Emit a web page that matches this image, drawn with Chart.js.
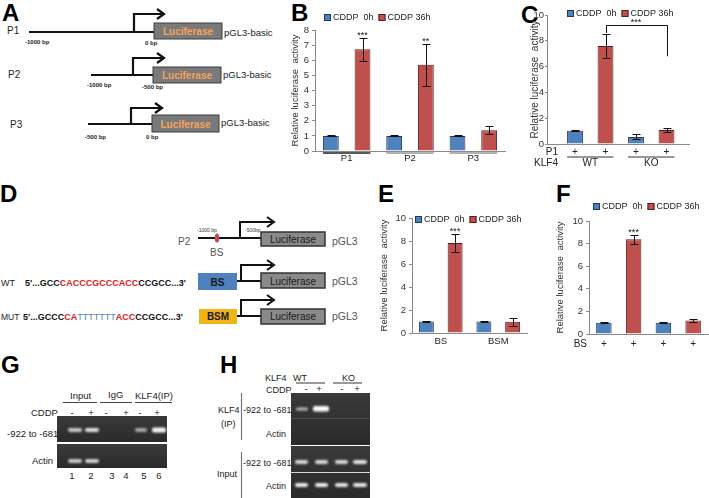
<!DOCTYPE html>
<html>
<head>
<meta charset="utf-8">
<script src="https://cdn.jsdelivr.net/npm/chart.js@4.4.1/dist/chart.umd.min.js"></script>
<style>
  body { margin: 0; background: #fff; }
  #fig { position: relative; width: 709px; height: 498px; overflow: hidden; font-family: "Liberation Sans", Arial, sans-serif; }
  #fig svg, #fig canvas { position: absolute; left: 0; top: 0; }
</style>
</head>
<body>
<div id="fig">
<svg width="709" height="498" viewBox="0 0 709 498" font-family="Liberation Sans, Arial, sans-serif">
  <defs>
    <filter id="soft" x="-50%" y="-100%" width="200%" height="300%"><feGaussianBlur stdDeviation="0.8"/></filter>
    <linearGradient id="gel" x1="0" y1="0" x2="0" y2="1">
      <stop offset="0" stop-color="#3a3a3a"/><stop offset="1" stop-color="#2a2a2a"/>
    </linearGradient>
  </defs>

  <!-- panel letters -->
  <g font-size="24" font-weight="bold" fill="#000">
    <text x="2" y="21">A</text>
    <text x="291" y="21">B</text>
    <text x="521" y="23">C</text>
    <text x="0" y="202">D</text>
    <text x="378" y="202">E</text>
    <text x="556" y="202">F</text>
    <text x="1" y="373">G</text>
    <text x="220" y="373">H</text>
  </g>

  <!-- A: promoter constructs -->
  <g font-size="10" fill="#222">
    <text x="7" y="34">P1</text>
    <text x="8" y="78">P2</text>
    <text x="10" y="128">P3</text>
  </g>
  <g stroke="#111" fill="none" stroke-width="2">
    <path d="M29 32H154"/><path d="M134 32V14H163" stroke-width="2.2"/><path d="M157 9L164 14L157 19" stroke-width="2.2"/>
    <path d="M91 75H153"/><path d="M133 75V58H163" stroke-width="2.2"/><path d="M157 53L164 58L157 63" stroke-width="2.2"/>
    <path d="M88 124H152"/><path d="M131 124V108H161" stroke-width="2.2"/><path d="M155 103L162 108L155 113" stroke-width="2.2"/>
  </g>
  <g fill="#7a7a7a" stroke="#3c3c3c">
    <rect x="154" y="23" width="68" height="16"/>
    <rect x="153" y="67" width="68" height="16"/>
    <rect x="152" y="115" width="67" height="17"/>
  </g>
  <g font-size="10" font-weight="bold" fill="#f5a35a" text-anchor="middle">
    <text x="188" y="35">Luciferase</text>
    <text x="187" y="79">Luciferase</text>
    <text x="185.5" y="128">Luciferase</text>
  </g>
  <g font-size="9.5" fill="#222">
    <text x="224" y="36">pGL3-basic</text>
    <text x="223" y="78">pGL3-basic</text>
    <text x="221" y="126">pGL3-basic</text>
  </g>
  <g font-size="6" font-weight="bold" fill="#222">
    <text x="25" y="44">-1000 bp</text><text x="145" y="45">0 bp</text>
    <text x="87" y="87">-1000 bp</text><text x="142" y="89">-500 bp</text>
    <text x="85" y="139">-500 bp</text><text x="146" y="139">0 bp</text>
  </g>

  <!-- D: binding site constructs -->
  <text x="178" y="245" font-size="10" fill="#555">P2</text>
  <text x="210" y="256" font-size="10" fill="#555">BS</text>
  <g font-size="5" fill="#333"><text x="197" y="232">-1000 bp</text><text x="245" y="232">-500bp</text></g>
  <g stroke="#111" fill="none" stroke-width="2">
    <path d="M198 238H261"/><path d="M240 238V222H272"/><path d="M267 217L274 222L267 227"/>
    <path d="M237 281H261"/><path d="M241 281V265H272"/><path d="M267 260L274 265L267 270"/>
    <path d="M237 316H261"/><path d="M241 316V300H272"/><path d="M267 295L274 300L267 305"/>
  </g>
  <ellipse cx="217" cy="238" rx="2.3" ry="4.5" fill="#c0504d"/>
  <rect x="198" y="273" width="39" height="17" fill="#4f81bd"/>
  <rect x="199" y="309" width="38" height="15" fill="#f0b418"/>
  <g font-size="10" font-weight="bold" fill="#1a1a1a" text-anchor="middle">
    <text x="217.5" y="285.5">BS</text><text x="218" y="320">BSM</text>
  </g>
  <g fill="#8a8a8a" stroke="#333" stroke-width="1.5">
    <rect x="261" y="232" width="64" height="14"/>
    <rect x="261" y="273" width="64" height="15"/>
    <rect x="261" y="309" width="64" height="15"/>
  </g>
  <g font-size="10" fill="#1a1a1a" text-anchor="middle">
    <text x="293" y="243">Luciferase</text><text x="293" y="284.5">Luciferase</text><text x="293" y="320">Luciferase</text>
  </g>
  <g font-size="10.5" fill="#555">
    <text x="332" y="245">pGL3</text><text x="332" y="285">pGL3</text><text x="332" y="320">pGL3</text>
  </g>
  <g font-size="9" fill="#222"><text x="1" y="286">WT</text><text x="1" y="320" font-size="8.5">MUT</text></g>
  <g font-size="9" font-weight="bold" fill="#111">
    <text x="25" y="286">5'...GCC<tspan fill="#e0201c">CACCCGCCCACC</tspan>CCGCC...3'</text>
    <text x="23" y="320">5'...GCCC<tspan fill="#e0201c">CA</tspan><tspan fill="#4f81bd" font-weight="normal">TTTTTTT</tspan><tspan fill="#e0201c">ACC</tspan>CCGCC...3'</text>
  </g>

  <!-- G: ChIP gel -->
  <g font-size="9.5" fill="#222">
    <text x="70" y="399">Input</text><text x="108" y="398">IgG</text><text x="135" y="399">KLF4(IP)</text>
    <text x="31" y="416">CDDP</text>
    <text x="7" y="437">-922 to -681</text>
    <text x="32" y="464">Actin</text>
  </g>
  <g stroke="#444" stroke-width="1"><path d="M63 402.5H97"/><path d="M100 402.5H132"/><path d="M135 402.5H172"/></g>
  <g font-size="9.5" fill="#222" text-anchor="middle">
    <text x="72" y="416">-</text><text x="91" y="416">+</text><text x="106" y="416">-</text><text x="126" y="416">+</text><text x="140" y="416">-</text><text x="157" y="416">+</text>
    <text x="72" y="479">1</text><text x="91" y="479">2</text><text x="112" y="479">3</text><text x="126" y="479">4</text><text x="144" y="479">5</text><text x="159" y="479">6</text>
  </g>
  <rect x="57" y="416" width="110" height="26" fill="url(#gel)"/>
  <rect x="57" y="444" width="110" height="24" fill="url(#gel)"/>
  <g filter="url(#soft)">
    <rect x="68" y="428" width="14" height="4" rx="2" fill="#c8c8c8"/>
    <rect x="85" y="428" width="14" height="4" rx="2" fill="#e0e0e0"/>
    <rect x="135" y="428" width="12" height="4" rx="2" fill="#a8a8a8"/>
    <rect x="152" y="427.5" width="14" height="5" rx="2" fill="#f4f4f4"/>
    <rect x="68" y="459" width="14" height="4" rx="2" fill="#c8c8c8"/>
    <rect x="85" y="459" width="14" height="4" rx="2" fill="#d0d0d0"/>
  </g>

  <!-- H: ChIP in WT / KO cells -->
  <g font-size="9" fill="#222">
    <text x="265" y="381">KLF4</text><text x="293" y="381">WT</text><text x="342" y="381">KO</text>
    <text x="266" y="393">CDDP</text>
    <text x="218" y="413">KLF4</text><text x="221" y="427">(IP)</text><text x="217" y="477">Input</text>
    <text x="243" y="413">-922 to -681</text><text x="266" y="437">Actin</text>
    <text x="243" y="466">-922 to -681</text><text x="266" y="489">Actin</text>
  </g>
  <g font-size="9.5" fill="#222" text-anchor="middle">
    <text x="306" y="392">-</text><text x="319" y="392">+</text><text x="342" y="392">-</text><text x="357" y="392">+</text>
  </g>
  <g stroke="#333" stroke-width="1"><path d="M296 383H325"/><path d="M333 383H362"/></g>
  <g stroke="#777" stroke-width="1.2"><path d="M241.5 393V440"/><path d="M241.5 452V498"/></g>
  <rect x="291" y="393" width="79" height="52" fill="url(#gel)"/>
  <path d="M291 418.5H370" stroke="#4a4a4a"/>
  <rect x="291" y="446" width="79" height="52" fill="url(#gel)"/>
  <path d="M291 472.5H370" stroke="#d8d8d8"/>
  <g filter="url(#soft)">
    <rect x="296" y="407.5" width="12" height="3" rx="1.5" fill="#b8b8b8"/>
    <rect x="313" y="406" width="16" height="5.5" rx="2" fill="#fafafa"/>
    <rect x="295" y="460" width="13" height="4" rx="2" fill="#d8d8d8"/>
    <rect x="315" y="460" width="13" height="4" rx="2" fill="#d8d8d8"/>
    <rect x="335" y="460" width="13" height="4" rx="2" fill="#d8d8d8"/>
    <rect x="353" y="460" width="14" height="4" rx="2" fill="#e4e4e4"/>
    <rect x="295" y="483" width="13" height="4" rx="2" fill="#ececec"/>
    <rect x="315" y="483" width="13" height="4" rx="2" fill="#ececec"/>
    <rect x="335" y="483" width="13" height="4" rx="2" fill="#e4e4e4"/>
    <rect x="353" y="483" width="14" height="4" rx="2" fill="#e4e4e4"/>
  </g>
</svg>
<canvas id="chartB" width="220" height="172" style="left:286px;top:0px;width:220px;height:172px"></canvas>
<canvas id="chartC" width="165" height="171" style="left:525px;top:0px;width:165px;height:171px"></canvas>
<canvas id="chartE" width="153" height="152" style="left:375px;top:200px;width:153px;height:152px"></canvas>
<canvas id="chartF" width="158" height="157" style="left:551px;top:195px;width:158px;height:157px"></canvas>
</div>
<script>
const seriesNames = ['CDDP  0h', 'CDDP 36h'];

// B: promoter deletion constructs
const promoters = ['P1', 'P2', 'P3'];
const promoter0h = [1.0, 1.0, 1.0];
const promoter0hErr = [0.03, 0.03, 0.03];
const promoter36h = [6.72, 5.7, 1.38];
const promoter36hErr = [0.74, 1.37, 0.25];
const promoterStars = ['***', '**', ''];

// C: P1 reporter in KLF4 WT / KO cells
const klf4Groups = ['WT', 'KO'];
const klf4P1Row = ['+', '+', '+', '+'];
const klf40h = [1.02, 0.55];
const klf40hErr = [0.03, 0.2];
const klf436h = [7.6, 1.08];
const klf436hErr = [0.95, 0.15];

// E: binding site vs mutant
const sites = ['BS', 'BSM'];
const site0h = [1.0, 1.0];
const site0hErr = [0.04, 0.04];
const site36h = [7.82, 0.97];
const site36hErr = [0.78, 0.36];
const siteStars = ['***', ''];

// F: BS reporter
const bsGroups = ['BS', 'BS'];
const bsRow = ['+', '+', '+', '+'];
const bs0h = [1.0, 1.0];
const bs0hErr = [0.04, 0.03];
const bs36h = [8.38, 1.2];
const bs36hErr = [0.38, 0.15];
const bsStars = ['***', ''];

Chart.defaults.font.family = '"Liberation Sans", Arial, sans-serif';
Chart.defaults.color = '#333';
Chart.defaults.animation = false;
Chart.defaults.responsive = false;
Chart.defaults.plugins.legend.display = false;
Chart.defaults.plugins.tooltip.enabled = false;

const valueOf = raw => (typeof raw === 'object' ? raw.y : raw);

// error bars, stars and the C comparison bracket
const errorBars = {
  id: 'errorBars',
  afterDatasetsDraw(chart, args, opts) {
    const {ctx} = chart;
    const y = chart.scales.y;
    ctx.save();
    ctx.strokeStyle = '#111';
    ctx.fillStyle = '#111';
    ctx.lineWidth = 1;
    ctx.font = '9px "Liberation Sans", Arial, sans-serif';
    ctx.textAlign = 'center';
    ctx.textBaseline = 'alphabetic';
    chart.data.datasets.forEach((ds, di) => {
      chart.getDatasetMeta(di).data.forEach((bar, i) => {
        const v = valueOf(ds.data[i]);
        const e = ds.errors ? ds.errors[i] : 0;
        const top = Math.round(y.getPixelForValue(v + e)) + 0.5;
        const bot = Math.round(y.getPixelForValue(v - e)) + 0.5;
        const x = Math.round(bar.x) + 0.5;
        ctx.beginPath();
        ctx.moveTo(x, top); ctx.lineTo(x, bot);
        ctx.moveTo(x - 4, top); ctx.lineTo(x + 4, top);
        ctx.moveTo(x - 4, bot); ctx.lineTo(x + 4, bot);
        ctx.stroke();
        if (ds.stars && ds.stars[i]) ctx.fillText(ds.stars[i], bar.x, top - 1);
      });
    });
    const br = opts.bracket;
    if (br) {
      const a = chart.getDatasetMeta(br.from[0]).data[br.from[1]];
      const b = chart.getDatasetMeta(br.to[0]).data[br.to[1]];
      const yy = Math.round(y.getPixelForValue(br.y)) + 0.5;
      ctx.beginPath();
      ctx.moveTo(Math.round(a.x) + 0.5, y.getPixelForValue(br.ends[0]));
      ctx.lineTo(Math.round(a.x) + 0.5, yy);
      ctx.lineTo(Math.round(b.x) + 0.5, yy);
      ctx.lineTo(Math.round(b.x) + 0.5, y.getPixelForValue(br.ends[1]));
      ctx.stroke();
      ctx.fillText(br.text, (a.x + b.x) / 2, yy - 1);
    }
    ctx.restore();
  }
};

// legend drawn at a fixed offset from the plot corner
const keyBox = {
  id: 'keyBox',
  afterDraw(chart, args, opts) {
    const {ctx, chartArea} = chart;
    let x = chartArea.left + opts.dx;
    const top = chartArea.top + opts.dy;
    ctx.save();
    ctx.font = '9px "Liberation Sans", Arial, sans-serif';
    ctx.textBaseline = 'middle';
    ctx.textAlign = 'left';
    chart.data.datasets.forEach(ds => {
      ctx.fillStyle = ds.backgroundColor;
      ctx.fillRect(x, top, 7, 7);
      ctx.strokeStyle = ds.borderColor;
      ctx.lineWidth = 1;
      ctx.strokeRect(x + 0.5, top + 0.5, 6, 6);
      ctx.fillStyle = '#222';
      ctx.fillText(ds.label, x + 9, top + 4);
      x += 9 + ctx.measureText(ds.label).width + 5;
    });
    ctx.restore();
  }
};

// group underlines and the +/- rows under the x axis
const xRows = {
  id: 'xRows',
  afterDraw(chart, args, opts) {
    const {ctx, chartArea} = chart;
    const metas = chart.data.datasets.map((ds, di) => chart.getDatasetMeta(di).data);
    const nGroups = metas[0].length;
    const groups = [];
    for (let i = 0; i < nGroups; i++) {
      const bars = metas.map(m => m[i]);
      groups.push({
        left: Math.min(...bars.map(b => b.x - b.width / 2)),
        right: Math.max(...bars.map(b => b.x + b.width / 2)),
        center: bars.reduce((s, b) => s + b.x, 0) / bars.length,
        bars: bars
      });
    }
    ctx.save();
    if (opts.lines) {
      ctx.lineWidth = opts.lines.width || 1;
      groups.forEach((g, i) => {
        const yy = chartArea.bottom + opts.lines.dy;
        ctx.strokeStyle = opts.lines.colors[i];
        ctx.beginPath();
        ctx.moveTo(g.left, yy); ctx.lineTo(g.right, yy);
        ctx.stroke();
      });
    }
    ctx.font = '10px "Liberation Sans", Arial, sans-serif';
    ctx.fillStyle = '#222';
    ctx.textBaseline = 'middle';
    (opts.rows || []).forEach(row => {
      const yy = chartArea.bottom + row.dy;
      ctx.textAlign = 'right';
      ctx.fillText(row.title, chartArea.left + opts.titleDx, yy);
      ctx.textAlign = 'center';
      if (row.perBar) {
        let k = 0;
        groups.forEach(g => g.bars.forEach(b => ctx.fillText(row.perBar[k++], b.x, yy)));
      }
      if (row.perGroup) groups.forEach((g, i) => ctx.fillText(row.perGroup[i], g.center, yy));
    });
    ctx.restore();
  }
};

function makeBars(id, cfg) {
  const xScale = Object.assign({
    grid: {display: false, drawTicks: false},
    border: {display: true, color: '#8a8a8a'},
    ticks: {display: cfg.xTicks !== false, color: '#222', padding: cfg.xPad || 2, font: {size: 9.5}},
    afterFit: s => { s.height = cfg.xH; }
  }, cfg.xExtra || {});
  return new Chart(document.getElementById(id), {
    type: 'bar',
    data: {
      labels: cfg.labels,
      datasets: [{
        label: seriesNames[0],
        data: cfg.d0,
        errors: cfg.e0,
        stars: null,
        backgroundColor: '#4f81bd',
        borderColor: '#1f3a5f',
        borderWidth: 1,
        categoryPercentage: 1,
        barPercentage: cfg.bp
      }, {
        label: seriesNames[1],
        data: cfg.d1,
        errors: cfg.e1,
        stars: cfg.stars,
        backgroundColor: '#c0504d',
        borderColor: '#5a1d1b',
        borderWidth: 1,
        categoryPercentage: 1,
        barPercentage: cfg.bp
      }]
    },
    options: {
      layout: {padding: cfg.pad},
      scales: {
        x: xScale,
        y: {
          min: 0,
          max: cfg.yMax,
          ticks: {stepSize: cfg.yStep, padding: cfg.tickPad, color: '#333', font: {size: 9.5}},
          grid: {drawOnChartArea: false, drawTicks: true, tickLength: cfg.tickLen, color: '#8a8a8a'},
          border: {display: true, color: '#8a8a8a'},
          title: {
            display: true,
            text: 'Relative luciferase  activity',
            color: '#333',
            font: {size: cfg.titleSize || 9.5},
            padding: {top: 4, bottom: 4}
          },
          afterFit: s => { s.width = cfg.yW; }
        }
      },
      plugins: {
        keyBox: cfg.key,
        errorBars: {bracket: cfg.bracket},
        xRows: cfg.rows || {}
      }
    },
    plugins: [errorBars, keyBox, xRows]
  });
}

// Panel B
makeBars('chartB', {
  labels: promoters, d0: promoter0h, e0: promoter0hErr, d1: promoter36h, e1: promoter36hErr,
  stars: promoterStars, bp: 0.5, yMax: 8, yStep: 1, yW: 29, xH: 21, xPad: 2,
  tickLen: 3, tickPad: 3,
  pad: {left: 0, right: 1, top: 30, bottom: 0},
  key: {dx: 9, dy: -16},
  rows: {lines: {dy: 2, width: 1.5, colors: ['#222', '#999', '#999']}}
});

// Panel C (linear x so the groups sit where the original put them)
makeBars('chartC', {
  labels: klf4Groups,
  d0: klf40h.map((v, i) => ({x: i + 1, y: v})), e0: klf40hErr,
  d1: klf436h.map((v, i) => ({x: i + 1, y: v})), e1: klf436hErr,
  stars: null, bp: 0.52, yMax: 10, yStep: 2, yW: 22, xH: 27, xTicks: false,
  xExtra: {type: 'linear', min: 0.291, max: 2.635, offset: false,
           ticks: {display: false, stepSize: 1, includeBounds: false}},
  tickLen: 2, tickPad: 1, titleSize: 10,
  pad: {left: 0, right: 0, top: 15, bottom: 0},
  key: {dx: 20, dy: -5},
  bracket: {from: [1, 0], to: [1, 1], y: 9.2, ends: [8.6, 6.8], text: '***'},
  rows: {
    titleDx: 11,
    lines: {dy: 13, width: 1, colors: ['#333', '#333']},
    rows: [{title: 'P1', dy: 8, perBar: klf4P1Row}, {title: 'KLF4', dy: 19, perGroup: klf4Groups}]
  }
});

// Panel E
makeBars('chartE', {
  labels: sites, d0: site0h, e0: site0hErr, d1: site36h, e1: site36hErr,
  stars: siteStars, bp: 0.52, yMax: 10, yStep: 2, yW: 37, xH: 19, xPad: 3,
  tickLen: 3, tickPad: 3,
  pad: {left: 0, right: 1, top: 18, bottom: 0},
  key: {dx: 3, dy: -2}
});

// Panel F
makeBars('chartF', {
  labels: bsGroups, d0: bs0h, e0: bs0hErr, d1: bs36h, e1: bs36hErr,
  stars: bsStars, bp: 0.52, yMax: 10, yStep: 2, yW: 38, xH: 18, xTicks: false,
  tickLen: 3, tickPad: 3,
  pad: {left: 0, right: 1, top: 26, bottom: 0},
  key: {dx: 4, dy: -18},
  rows: {titleDx: -2, rows: [{title: 'BS', dy: 10, perBar: bsRow}]}
});
</script>
</body>
</html>
